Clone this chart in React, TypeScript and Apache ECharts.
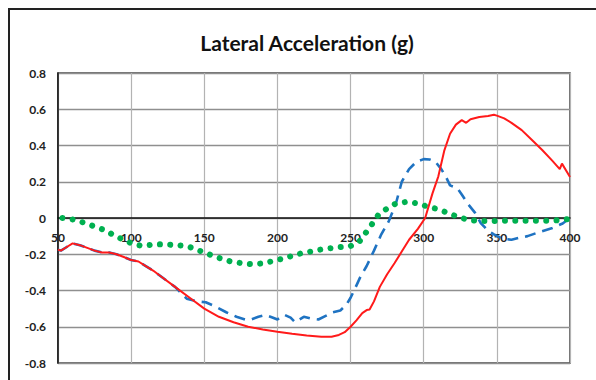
import React, { useEffect, useRef } from "react";
import * as echarts from "echarts";

const titleText = "Lateral Acceleration (g)";

const redX = [50, 52, 56, 60, 65, 70, 75, 80, 85, 90, 95, 100, 105, 110, 115, 120, 130, 140, 150, 160, 170, 180, 190, 200, 210, 220, 230, 237, 242, 246, 250, 254, 258, 261, 263, 266, 270, 275, 280, 285, 290, 296, 301, 306, 310, 314, 318, 322, 326, 329, 332, 338, 344, 348, 350, 355, 360, 367, 374, 381, 388, 393, 394.5, 400];
const redY = [-0.175, -0.18, -0.16, -0.14, -0.15, -0.165, -0.18, -0.19, -0.19, -0.2, -0.215, -0.232, -0.24, -0.265, -0.29, -0.32, -0.38, -0.44, -0.5, -0.545, -0.575, -0.6, -0.615, -0.627, -0.638, -0.648, -0.655, -0.655, -0.645, -0.63, -0.6, -0.565, -0.525, -0.508, -0.505, -0.46, -0.38, -0.31, -0.25, -0.185, -0.12, -0.06, 0.0, 0.136, 0.23, 0.37, 0.465, 0.515, 0.54, 0.525, 0.545, 0.557, 0.563, 0.57, 0.565, 0.55, 0.525, 0.485, 0.43, 0.375, 0.315, 0.27, 0.3, 0.226];

const blueX = [50, 52, 56, 60, 65, 70, 75, 80, 85, 90, 95, 100, 105, 110, 115, 120, 130, 138, 145, 151, 158, 165, 172, 178, 182, 187, 192, 197, 200, 205, 209, 212, 215, 218, 223, 228, 233, 238, 243, 247, 250, 253, 257, 261, 266, 271, 276, 281, 285, 290, 295, 300, 304, 308, 312, 315, 318, 323, 326, 330, 335, 339, 344, 348, 354, 360, 365, 371, 380, 388, 395, 400];
const blueY = [-0.175, -0.18, -0.16, -0.14, -0.15, -0.165, -0.18, -0.19, -0.19, -0.2, -0.215, -0.232, -0.24, -0.265, -0.29, -0.32, -0.38, -0.445, -0.46, -0.465, -0.49, -0.52, -0.545, -0.56, -0.56, -0.545, -0.535, -0.55, -0.56, -0.535, -0.55, -0.575, -0.56, -0.545, -0.555, -0.56, -0.54, -0.52, -0.51, -0.48, -0.44, -0.39, -0.32, -0.265, -0.18, -0.09, -0.02, 0.08, 0.2, 0.27, 0.31, 0.325, 0.323, 0.31, 0.27, 0.23, 0.18, 0.165, 0.13, 0.08, 0.03, -0.028, -0.07, -0.09, -0.115, -0.12, -0.11, -0.1, -0.075, -0.055, -0.03, 0.0];

const greenX = [53, 62, 69, 76, 83, 89, 95, 101, 108, 116, 124, 132, 140, 146, 153, 160, 168, 176, 183, 191, 198, 206, 213, 220, 228, 235, 243, 250, 256, 261, 265, 269, 275, 281, 289, 296, 303, 310, 317, 324, 331, 339, 346, 354, 361, 369, 376, 384, 392, 400];
const greenY = [0, -0.01, -0.03, -0.05, -0.07, -0.1, -0.12, -0.143, -0.155, -0.145, -0.146, -0.15, -0.16, -0.178, -0.2, -0.22, -0.24, -0.25, -0.255, -0.25, -0.235, -0.22, -0.2, -0.19, -0.176, -0.168, -0.16, -0.155, -0.13, -0.075, -0.03, 0.017, 0.053, 0.08, 0.09, 0.08, 0.062, 0.048, 0.026, 0.004, -0.011, -0.017, -0.017, -0.015, -0.015, -0.015, -0.015, -0.015, -0.012, -0.005];

const xMin = 50;
const xMax = 400;
const xStep = 50;
const yMin = -0.8;
const yMax = 0.8;
const yStep = 0.2;

const zip = (xs: number[], ys: number[]) => xs.map((x, i) => [x, ys[i]]);

export default function App() {
  const ref = useRef<HTMLDivElement>(null);
  useEffect(() => {
    if (!ref.current) return;
    const chart = echarts.init(ref.current, undefined, { renderer: "svg" });
    const font = "Lato, 'Open Sans', 'DejaVu Sans', sans-serif";
    const gridTop = 73;
    const gridBottom = 17;
    const plotH = 380 - gridTop - gridBottom;
    // move the x axis (line + labels) from the bottom edge up to y = 0
    const zeroOffset = -plotH * ((0 - yMin) / (yMax - yMin));
    chart.setOption({
      animation: false,
      backgroundColor: "#ffffff",
      title: {
        text: titleText,
        left: 302,
        textAlign: "center",
        top: 27,
        textStyle: { fontFamily: font, fontSize: 21, fontWeight: "bold", color: "#111" },
      },
      graphic: [
        {
          type: "rect",
          shape: { x: 9, y: 9, width: 640, height: 420 },
          style: { fill: "none", stroke: "#222", lineWidth: 2 },
          silent: true,
        },
      ],
      grid: {
        left: 58,
        right: 26,
        top: gridTop,
        bottom: gridBottom,
        show: true,
        borderColor: "#444",
        borderWidth: 1.5,
      },
      xAxis: {
        type: "value",
        min: xMin,
        max: xMax,
        interval: xStep,
        offset: zeroOffset,
        axisLine: { onZero: false, lineStyle: { color: "#111", width: 1.5 } },
        axisTick: { show: false },
        axisLabel: { fontFamily: font, fontSize: 12, fontWeight: "bold", color: "#222", margin: 13 },
        splitLine: { show: true, lineStyle: { color: "#b3b3b3", width: 1.2 } },
      },
      yAxis: {
        type: "value",
        min: yMin,
        max: yMax,
        interval: yStep,
        axisLine: { show: true, lineStyle: { color: "#111", width: 1.5 } },
        axisTick: { show: false },
        axisLabel: {
          fontFamily: font,
          fontSize: 12,
          fontWeight: "bold",
          color: "#222",
          margin: 12,
          formatter: (v: number) => (Math.abs(v) < 1e-9 ? "0" : v.toFixed(1)),
        },
        splitLine: { show: true, lineStyle: { color: "#8f8f8f", width: 1.3 } },
      },
      series: [
        {
          name: "blue",
          type: "line",
          data: zip(blueX, blueY),
          showSymbol: false,
          lineStyle: { color: "#1f73c2", width: 2.6, type: [11, 7] },
        },
        {
          name: "green",
          type: "line",
          data: zip(greenX, greenY),
          showSymbol: false,
          lineStyle: { color: "#00b050", width: 6, type: [0.01, 10.3], cap: "round" },
        },
        {
          name: "red",
          type: "line",
          data: zip(redX, redY),
          showSymbol: false,
          lineStyle: { color: "#ff1a1a", width: 2 },
        },
      ],
    });
    return () => chart.dispose();
  }, []);
  return (
    <div
      ref={ref}
      style={{ position: "fixed", left: 0, top: 0, width: 596, height: 380, background: "#fff" }}
    />
  );
}
